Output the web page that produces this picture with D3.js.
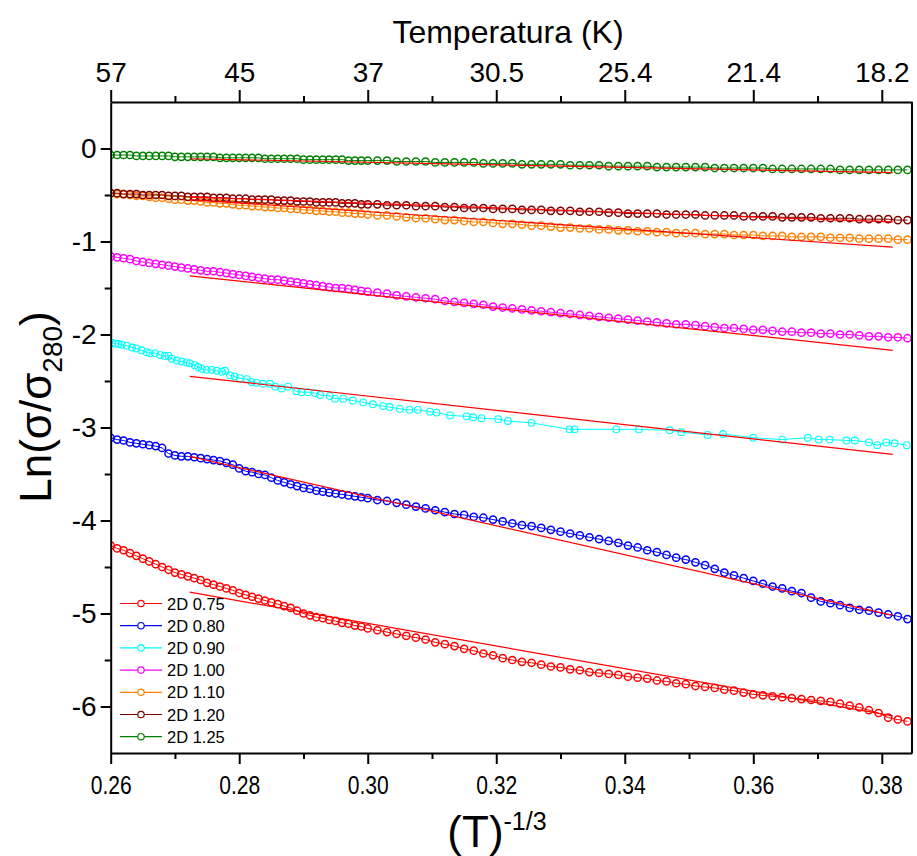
<!DOCTYPE html>
<html><head><meta charset="utf-8">
<script src="https://cdn.jsdelivr.net/npm/d3@7"></script>
<style>body{margin:0;background:#fff}svg{display:block}</style>
</head><body><svg id="c" width="917" height="856"></svg>
<script>
// ---------- data ----------
const xGrid = [0.260,0.261,0.262,0.263,0.264,0.265,0.266,0.267,0.268,0.269,
0.270,0.271,0.272,0.273,0.274,0.275,0.276,0.277,0.278,0.279,
0.280,0.281,0.282,0.283,0.284,0.285,0.286,0.287,0.288,0.289,
0.290,0.291,0.292,0.293,0.294,0.295,0.296,0.297,0.298,0.299,
0.300,0.3015,0.3030,0.3045,0.3060,0.3075,0.3090,0.3105,0.3120,0.3135,
0.3150,0.3165,0.3180,0.3195,0.3210,0.3225,0.3240,0.3255,0.3270,0.3285,
0.3300,0.3315,0.3330,0.3345,0.3360,0.3375,0.3390,0.3405,0.3420,0.3435,
0.3450,0.3465,0.3480,0.3495,0.3510,0.3525,0.3540,0.3555,0.3570,0.3585,
0.3600,0.3615,0.3630,0.3645,0.3660,0.3675,0.3690,0.3705,0.3720,0.3735,
0.3750,0.3765,0.3780,0.3795,0.3810,0.3825,0.3840];

const y075 = [-4.27,-4.30,-4.32,-4.35,-4.38,-4.41,-4.44,-4.47,-4.50,-4.53,
-4.56,-4.58,-4.60,-4.62,-4.64,-4.67,-4.69,-4.71,-4.73,-4.75,
-4.78,-4.80,-4.82,-4.84,-4.86,-4.88,-4.90,-4.92,-4.94,-4.97,
-5.00,-5.02,-5.04,-5.05,-5.07,-5.08,-5.10,-5.11,-5.13,-5.14,
-5.16,-5.18,-5.20,-5.22,-5.24,-5.26,-5.28,-5.31,-5.33,-5.35,
-5.38,-5.40,-5.43,-5.45,-5.48,-5.50,-5.52,-5.53,-5.55,-5.57,
-5.58,-5.60,-5.61,-5.63,-5.64,-5.65,-5.66,-5.68,-5.69,-5.70,
-5.72,-5.73,-5.75,-5.76,-5.78,-5.79,-5.80,-5.82,-5.83,-5.85,
-5.87,-5.88,-5.89,-5.90,-5.91,-5.92,-5.93,-5.94,-5.95,-5.97,
-5.99,-6.01,-6.04,-6.07,-6.12,-6.14,-6.16];

const y080 = [-3.11,-3.13,-3.14,-3.16,-3.17,-3.18,-3.19,-3.20,-3.22,-3.28,
-3.30,-3.31,-3.31,-3.32,-3.33,-3.34,-3.35,-3.36,-3.38,-3.40,
-3.44,-3.47,-3.48,-3.50,-3.51,-3.54,-3.57,-3.59,-3.61,-3.63,
-3.65,-3.66,-3.68,-3.69,-3.70,-3.71,-3.72,-3.73,-3.74,-3.75,
-3.76,-3.78,-3.79,-3.81,-3.83,-3.85,-3.87,-3.89,-3.91,-3.93,
-3.94,-3.96,-3.97,-3.99,-4.01,-4.03,-4.05,-4.06,-4.08,-4.10,
-4.12,-4.14,-4.16,-4.18,-4.20,-4.22,-4.24,-4.27,-4.29,-4.32,
-4.34,-4.37,-4.40,-4.42,-4.45,-4.48,-4.52,-4.56,-4.59,-4.62,
-4.65,-4.68,-4.71,-4.73,-4.76,-4.78,-4.83,-4.87,-4.89,-4.91,
-4.94,-4.96,-4.97,-4.99,-5.01,-5.03,-5.06];

const x090 = [0.2602,0.2607,0.2612,0.2617,0.2625,0.2633,0.2640,0.2648,0.2656,0.2661,
0.2669,0.2677,0.2684,0.2690,0.2695,0.2703,0.2710,0.2718,0.2723,0.2731,
0.2736,0.2742,0.2749,0.2757,0.2765,0.2773,0.2778,0.2786,0.2793,0.2801,
0.2812,0.2819,0.2827,0.2837,0.2848,0.2856,0.2866,0.2876,0.2889,0.2897,
0.2907,0.2918,0.2926,0.2941,0.2949,0.2962,0.2977,0.2993,0.3008,0.3024,
0.3034,0.3050,0.3065,0.3078,0.3097,0.3107,0.3128,0.3154,0.3164,0.3177,
0.3203,0.3218,0.3255,0.3314,0.3322,0.3387,0.3422,0.3470,0.3488,0.3529,
0.3553,0.3600,0.3645,0.3685,0.3702,0.3719,0.3745,0.3758,0.3780,0.3793,
0.3807,0.3820,0.3839];
const y090 = [-2.09,-2.10,-2.10,-2.11,-2.12,-2.14,-2.15,-2.17,-2.19,-2.20,
-2.20,-2.22,-2.23,-2.23,-2.26,-2.28,-2.29,-2.30,-2.31,-2.33,
-2.35,-2.37,-2.38,-2.38,-2.39,-2.40,-2.39,-2.44,-2.45,-2.47,
-2.48,-2.51,-2.52,-2.53,-2.53,-2.56,-2.58,-2.56,-2.61,-2.62,
-2.62,-2.63,-2.65,-2.66,-2.69,-2.69,-2.71,-2.73,-2.75,-2.77,
-2.78,-2.80,-2.81,-2.81,-2.83,-2.84,-2.87,-2.88,-2.89,-2.90,
-2.91,-2.93,-2.95,-3.02,-3.02,-3.02,-3.02,-3.03,-3.05,-3.08,
-3.07,-3.11,-3.13,-3.11,-3.13,-3.13,-3.14,-3.14,-3.16,-3.19,
-3.16,-3.17,-3.19];

const y100 = [-1.16,-1.17,-1.18,-1.19,-1.21,-1.22,-1.23,-1.24,-1.25,-1.26,
-1.27,-1.28,-1.29,-1.30,-1.31,-1.32,-1.32,-1.33,-1.34,-1.35,
-1.36,-1.37,-1.38,-1.39,-1.40,-1.41,-1.41,-1.42,-1.43,-1.44,
-1.45,-1.46,-1.47,-1.48,-1.49,-1.50,-1.50,-1.51,-1.52,-1.53,
-1.54,-1.55,-1.56,-1.58,-1.59,-1.60,-1.61,-1.62,-1.64,-1.65,
-1.66,-1.67,-1.68,-1.70,-1.71,-1.72,-1.73,-1.74,-1.75,-1.76,
-1.77,-1.78,-1.79,-1.80,-1.81,-1.82,-1.83,-1.84,-1.85,-1.86,
-1.87,-1.88,-1.89,-1.89,-1.90,-1.91,-1.92,-1.93,-1.93,-1.94,
-1.95,-1.95,-1.96,-1.97,-1.97,-1.98,-1.98,-1.99,-1.99,-2.00,
-2.00,-2.01,-2.02,-2.02,-2.03,-2.03,-2.04];

const y110 = [-0.48,-0.49,-0.49,-0.50,-0.51,-0.51,-0.52,-0.53,-0.53,-0.54,
-0.55,-0.55,-0.56,-0.56,-0.57,-0.58,-0.58,-0.59,-0.59,-0.60,
-0.61,-0.61,-0.62,-0.62,-0.63,-0.63,-0.64,-0.64,-0.65,-0.65,
-0.66,-0.66,-0.67,-0.67,-0.68,-0.68,-0.69,-0.69,-0.70,-0.70,
-0.71,-0.72,-0.72,-0.73,-0.74,-0.75,-0.75,-0.76,-0.77,-0.77,
-0.78,-0.79,-0.79,-0.80,-0.81,-0.81,-0.82,-0.83,-0.83,-0.84,
-0.85,-0.85,-0.86,-0.86,-0.87,-0.87,-0.88,-0.88,-0.89,-0.89,
-0.90,-0.90,-0.91,-0.91,-0.91,-0.92,-0.92,-0.92,-0.93,-0.93,
-0.93,-0.94,-0.94,-0.94,-0.95,-0.95,-0.95,-0.95,-0.96,-0.96,
-0.96,-0.97,-0.97,-0.97,-0.97,-0.98,-0.98];

const y120 = [-0.48,-0.48,-0.49,-0.49,-0.49,-0.50,-0.50,-0.50,-0.50,-0.51,
-0.51,-0.51,-0.52,-0.52,-0.52,-0.52,-0.53,-0.53,-0.53,-0.54,
-0.54,-0.54,-0.55,-0.55,-0.55,-0.55,-0.56,-0.56,-0.56,-0.57,
-0.57,-0.57,-0.58,-0.58,-0.58,-0.58,-0.59,-0.59,-0.59,-0.60,
-0.60,-0.60,-0.61,-0.61,-0.61,-0.62,-0.62,-0.62,-0.63,-0.63,
-0.64,-0.64,-0.64,-0.65,-0.65,-0.65,-0.66,-0.66,-0.66,-0.67,
-0.67,-0.67,-0.68,-0.68,-0.68,-0.69,-0.69,-0.70,-0.70,-0.70,
-0.70,-0.71,-0.71,-0.71,-0.71,-0.72,-0.72,-0.72,-0.72,-0.73,
-0.73,-0.73,-0.73,-0.74,-0.74,-0.74,-0.74,-0.75,-0.75,-0.75,
-0.75,-0.76,-0.76,-0.76,-0.76,-0.77,-0.77];

const y125 = [-0.07,-0.07,-0.07,-0.07,-0.08,-0.08,-0.08,-0.08,-0.08,-0.08,
-0.09,-0.09,-0.09,-0.09,-0.09,-0.09,-0.09,-0.10,-0.10,-0.10,
-0.10,-0.10,-0.10,-0.10,-0.11,-0.11,-0.11,-0.11,-0.11,-0.11,
-0.12,-0.12,-0.12,-0.12,-0.12,-0.12,-0.12,-0.13,-0.13,-0.13,
-0.13,-0.13,-0.13,-0.14,-0.14,-0.14,-0.14,-0.15,-0.15,-0.15,
-0.15,-0.15,-0.16,-0.16,-0.16,-0.16,-0.17,-0.17,-0.17,-0.17,
-0.17,-0.18,-0.18,-0.18,-0.18,-0.19,-0.19,-0.19,-0.19,-0.19,
-0.20,-0.20,-0.20,-0.20,-0.20,-0.20,-0.21,-0.21,-0.21,-0.21,
-0.21,-0.21,-0.22,-0.22,-0.22,-0.22,-0.22,-0.22,-0.22,-0.23,
-0.23,-0.23,-0.23,-0.23,-0.23,-0.23,-0.23];

// linear fits (red lines): start/end x and y
const fitX = [0.2723, 0.3817];
const fit075 = [-4.77, -6.10];
const fit080 = [-3.31, -5.02];
const fit090 = [-2.45, -3.29];
const fit100 = [-1.37, -2.17];
const fit110 = [-0.55, -1.06];
const fit120 = [-0.52, -0.79];
const fit125 = [-0.11, -0.26];

const seriesNames = ["2D 0.75","2D 0.80","2D 0.90","2D 1.00","2D 1.10","2D 1.20","2D 1.25"];
const seriesColors = ["#FF0000","#0000FF","#00FFFF","#FF00FF","#FF8000","#800000","#008000"];

const bottomTicks = [0.26,0.28,0.30,0.32,0.34,0.36,0.38];
const bottomMinor = [0.27,0.29,0.31,0.33,0.35,0.37];
const topTickLabels = ["57","45","37","30.5","25.4","21.4","18.2"];
const leftTicks = [0,-1,-2,-3,-4,-5,-6];
const leftMinor = [-0.5,-1.5,-2.5,-3.5,-4.5,-5.5];

// ---------- drawing ----------
const svg = d3.select("#c");
const L = 110.7, R = 912, T = 102, B = 753;
const x = d3.scaleLinear().domain([0.26, 0.3847]).range([L, R]);
const y = d3.scaleLinear().domain([-6.5, 0.5]).range([B, T]);
const FONT = "'Liberation Sans', Arial, sans-serif";

svg.append("defs").append("clipPath").attr("id","clip")
  .append("rect").attr("x",L).attr("y",T-4).attr("width",R-L+4).attr("height",B-T+4);

const plot = svg.append("g").attr("clip-path","url(#clip)");
const xs = [xGrid, xGrid, x090, xGrid, xGrid, xGrid, xGrid];
const ys = [y075, y080, y090, y100, y110, y120, y125];
const fits = [fit075, fit080, fit090, fit100, fit110, fit120, fit125];
const line = d3.line().x(d=>x(d[0])).y(d=>y(d[1]));

ys.forEach((yy, s) => {
  const pts = xs[s].map((v,i)=>[v, yy[i]]);
  const sparse = (s === 2);
  const g = plot.append("g");
  g.append("path").datum(pts).attr("d", line)
    .attr("fill","none").attr("stroke",seriesColors[s]).attr("stroke-width",1);
  g.selectAll("circle").data(pts).enter().append("circle")
    .attr("cx",d=>x(d[0])).attr("cy",d=>y(d[1])).attr("r",sparse?3.4:3.6)
    .attr("fill","none").attr("stroke",seriesColors[s]).attr("stroke-width",sparse?1.1:1.5);
});
fits.forEach(f => {
  plot.append("path").datum([[fitX[0],f[0]],[fitX[1],f[1]]]).attr("d",line)
    .attr("fill","none").attr("stroke","#FF0000").attr("stroke-width",1.2);
});

// axes
function styleAxis(g){ g.select(".domain").attr("stroke","#000").attr("stroke-width",2);
  g.selectAll(".tick line").attr("stroke","#000").attr("stroke-width",2); }

const gb = svg.append("g").attr("transform",`translate(0,${B})`)
  .call(d3.axisBottom(x).tickValues(bottomTicks).tickSize(11).tickPadding(12).tickSizeOuter(0).tickFormat(d3.format(".2f")));
styleAxis(gb);
gb.selectAll("text").attr("font-family",FONT).attr("font-size",25).attr("fill","#000")
  .attr("textLength",41).attr("lengthAdjust","spacingAndGlyphs");
svg.append("g").attr("transform",`translate(0,${B})`)
  .call(d3.axisBottom(x).tickValues(bottomMinor).tickSize(6).tickFormat("").tickSizeOuter(0))
  .call(g=>{g.select(".domain").remove(); g.selectAll("line").attr("stroke","#000").attr("stroke-width",2);});

const gt = svg.append("g").attr("transform",`translate(0,${T})`)
  .call(d3.axisTop(x).tickValues(bottomTicks).tickSize(12).tickPadding(8).tickSizeOuter(0).tickFormat((d,i)=>topTickLabels[i]));
styleAxis(gt);
gt.selectAll("text").attr("font-family",FONT).attr("font-size",28).attr("fill","#000");
svg.append("g").attr("transform",`translate(0,${T})`)
  .call(d3.axisTop(x).tickValues(bottomMinor).tickSize(6).tickFormat("").tickSizeOuter(0))
  .call(g=>{g.select(".domain").remove(); g.selectAll("line").attr("stroke","#000").attr("stroke-width",2);});

const gl = svg.append("g").attr("transform",`translate(${L},0)`)
  .call(d3.axisLeft(y).tickValues(leftTicks).tickSize(10).tickPadding(4).tickSizeOuter(0).tickFormat(d=>String(d)));
styleAxis(gl);
gl.selectAll("text").attr("font-family",FONT).attr("font-size",28).attr("fill","#000");
svg.append("g").attr("transform",`translate(${L},0)`)
  .call(d3.axisLeft(y).tickValues(leftMinor).tickSize(6).tickFormat("").tickSizeOuter(0))
  .call(g=>{g.select(".domain").remove(); g.selectAll("line").attr("stroke","#000").attr("stroke-width",2);});

// right frame
svg.append("line").attr("x1",R).attr("x2",R).attr("y1",T).attr("y2",B).attr("stroke","#000").attr("stroke-width",2);

// titles
svg.append("text").attr("x",508).attr("y",43).attr("text-anchor","middle")
  .attr("font-family",FONT).attr("font-size",32).text("Temperatura (K)");
const xt = svg.append("text").attr("x",497).attr("y",847).attr("text-anchor","middle")
  .attr("font-family",FONT).attr("font-size",44);
xt.append("tspan").text("(T)");
xt.append("tspan").attr("dy",-17).attr("font-size",25).text("-1/3");
const yt = svg.append("text").attr("transform","translate(51,407) rotate(-90)").attr("text-anchor","middle")
  .attr("font-family",FONT).attr("font-size",44);
yt.append("tspan").text("Ln(σ/σ");
yt.append("tspan").attr("dy",11).attr("font-size",28).text("280");
yt.append("tspan").attr("dy",-11).text(")");

// legend
const lg = svg.append("g");
seriesNames.forEach((n,i)=>{
  const yy = 603.5 + i*22.2;
  lg.append("line").attr("x1",120).attr("x2",162).attr("y1",yy).attr("y2",yy)
    .attr("stroke",seriesColors[i]).attr("stroke-width",1.2);
  lg.append("circle").attr("cx",141).attr("cy",yy).attr("r",3.2)
    .attr("fill","#fff").attr("stroke",seriesColors[i]).attr("stroke-width",1.2);
  lg.append("text").attr("x",167).attr("y",yy+6).attr("font-family",FONT)
    .attr("font-size",16.5).attr("fill","#000").text(n);
});
</script></body></html>
